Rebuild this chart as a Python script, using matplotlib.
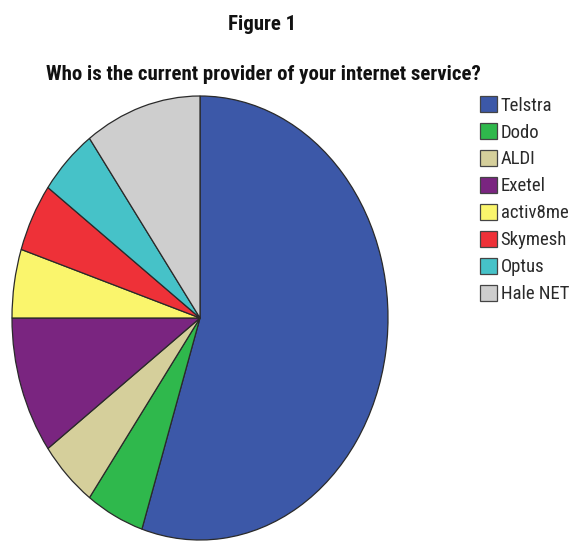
import matplotlib
matplotlib.use("Agg")
import matplotlib.pyplot as plt
from matplotlib.patches import Patch

providers = ["Telstra", "Dodo", "ALDI", "Exetel", "activ8me", "Skymesh", "Optus", "Hale NET"]
counts = [11, 1, 1, 2, 1, 1, 1, 2]
colors = ["#3C58A8", "#2FB84C", "#D5CF9B", "#7A2580", "#FAF56C", "#EE3138", "#46C2C8", "#CECECE"]

FONT = ["Roboto Condensed", "Archivo Narrow", "Liberation Sans", "DejaVu Sans"]

fig = plt.figure(figsize=(5.76, 5.43), dpi=100)
fig.patch.set_facecolor("white")

W, H = 576, 543
ax = fig.add_axes([12 / W, (H - 540) / H, 376 / W, 444 / H])
wedges, _ = ax.pie(counts, colors=colors, startangle=90, counterclock=False,
                   wedgeprops=dict(edgecolor="#2a2a2a", linewidth=0.9))
for w in wedges:
    w.set_clip_on(False)
ax.set_aspect("auto")
ax.set_xlim(-1, 1)
ax.set_ylim(-1, 1)
ax.axis("off")

fig.text(262 / W, 1 - 24 / H, "Figure 1", ha="center", va="center",
         fontsize=15, fontweight="bold", family=FONT, color="#111111")
fig.text(263 / W, 1 - 75 / H, "Who is the current provider of your internet service?",
         ha="center", va="center", fontsize=15, fontweight="bold", family=FONT, color="#111111")

handles = [Patch(facecolor=c, edgecolor="#444444", linewidth=0.9) for c in colors]
leg = fig.legend(handles, providers, loc="upper left",
                 bbox_to_anchor=(480 / W, 1 - 96 / H),
                 frameon=False, prop=dict(family=FONT, size=13.5),
                 labelcolor="#2a2a2a",
                 handlelength=0.9, handleheight=0.95, handletextpad=0.2,
                 labelspacing=0.45, borderpad=0.0, borderaxespad=0.0)

fig.savefig("out.png", dpi=100)
